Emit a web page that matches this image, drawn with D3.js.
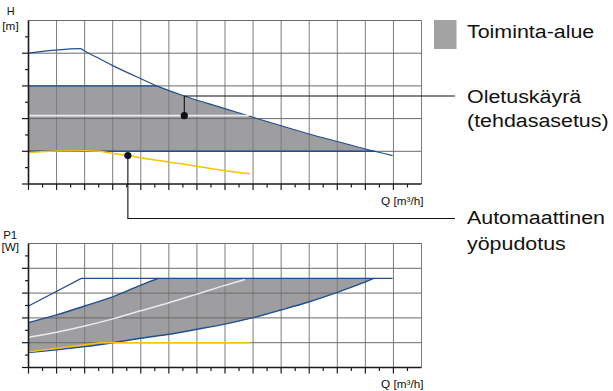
<!DOCTYPE html>
<html>
<head>
<meta charset="utf-8">
<script src="https://cdn.jsdelivr.net/npm/d3@7"></script>
<style>
  html, body { margin: 0; padding: 0; background: #fff; }
  svg { display: block; font-family: "Liberation Sans", Arial, sans-serif; }
</style>
</head>
<body>
<svg id="chart" width="613" height="391"></svg>
<script>
// Flow axis (m³/h, shared by both panels)
const flowMax = 14;

// Head panel, H [m]: maximum curve, limits of the operating range, default and night curves
const headMax = [[0, 4.0], [1.84, 4.14], [2, 4.07], [3, 3.62], [4, 3.22], [4.57, 3.0],
  [5.55, 2.69], [6.82, 2.35], [8, 2.04], [9, 1.78], [10, 1.53], [11, 1.30], [12, 1.07], [12.97, 0.87]];
const headRangeTop = 3;
const headRangeBottom = 1;
const headDefault = [[0, 2.09], [7.85, 2.09]];
const headNight = [[0, 0.96], [1, 1.01], [2, 1.02], [2.55, 1.0], [3, 0.93], [3.54, 0.87], [4, 0.8],
  [6.1, 0.53], [6.82, 0.43], [7.89, 0.31]];

// Power panel, P1 [W]
const powerMax = [[0, 2.48], [1.88, 3.59], [12.97, 3.59]];
const powerUpper = [[0, 1.81], [1, 2.12], [2, 2.48], [3, 2.85], [4, 3.32], [4.63, 3.59], [12.3, 3.59]];
const powerLower = [[0, 0.6], [1, 0.71], [2, 0.84], [3, 1.0], [4, 1.18], [5, 1.34], [6, 1.54], [7, 1.75],
  [8, 2.01], [9, 2.32], [10, 2.65], [11, 3.03], [12, 3.45], [12.3, 3.59]];
const powerDefault = [[0, 1.22], [1, 1.42], [2, 1.67], [3, 1.96], [4, 2.29], [5, 2.61], [6, 2.96],
  [6.82, 3.25], [7.71, 3.55]];
const powerNight = [[0, 0.63], [2.55, 1.0], [7.89, 1.0]];

// Callout anchors: [flow, value on curve, value where the leader turns]
const defaultMarker = [5.55, 2.09, 2.69];
const nightMarker = [3.54, 0.87];

const legendLabels = {
  area: "Toiminta-alue",
  default: ["Oletuskäyrä", "(tehdasasetus)"],
  night: ["Automaattinen", "yöpudotus"]
};
const axisLabels = { head: ["H", "[m]"], power: ["P1", "[W]"], flow: "Q [m³/h]" };

const BLUE = "#1f4f8f", YELLOW = "#f8c300", AREA = "#9e9ea0", WHITE = "#e9ebf1";

const svg = d3.select("#chart");
const x = d3.scaleLinear().domain([0, flowMax]).range([28.5, 421.5]);
const yH = d3.scaleLinear().domain([0, 5]).range([184, 20.5]);
const yP = d3.scaleLinear().domain([0, 5]).range([367.5, 243.5]);

// flow where a falling polyline (past its peak) reaches value v
function flowAt(pts, v) {
  for (let i = 1; i < pts.length; i++) {
    const [x0, y0] = pts[i - 1], [x1, y1] = pts[i];
    if (y1 < y0 && (y0 - v) * (y1 - v) <= 0) return x0 + (v - y0) * (x1 - x0) / (y1 - y0);
  }
  return pts[pts.length - 1][0];
}

function stretchedText(g, str, px, py, size, anchor, sx) {
  return g.append("text")
    .attr("transform", `translate(${px},${py}) scale(${sx},1)`)
    .attr("font-size", size)
    .attr("text-anchor", anchor || "start")
    .attr("fill", "#111")
    .text(str);
}

function drawGrid(g, y) {
  const [y0, y5] = y.range();
  g.append("g").selectAll("line").data(d3.range(1, flowMax + 1)).join("line")
    .attr("x1", d => x(d)).attr("x2", d => x(d))
    .attr("y1", y0).attr("y2", y5)
    .attr("stroke", "#7c7c7c").attr("stroke-width", 1);
  g.append("g").selectAll("line").data(d3.range(1, 6)).join("line")
    .attr("x1", x(0)).attr("x2", x(flowMax))
    .attr("y1", d => y(d)).attr("y2", d => y(d))
    .attr("stroke", "#6a6a6a").attr("stroke-width", 1);
}

function drawAxes(g, y) {
  const [y0, y5] = y.range();
  const ax = g.append("g").attr("stroke", "#1a1a1a");
  ax.selectAll("line.xt").data(d3.range(0, flowMax, 0.5)).join("line").attr("class", "xt")
    .attr("x1", d => x(d)).attr("x2", d => x(d))
    .attr("y1", y0).attr("y2", d => y0 + (d % 1 === 0 ? 6 : 3.5))
    .attr("stroke-width", 1.2);
  ax.selectAll("line.yt").data(d3.range(0, 5, 0.5)).join("line").attr("class", "yt")
    .attr("x1", d => x(0) - (d % 1 === 0 ? 6.5 : 3.5)).attr("x2", x(0))
    .attr("y1", d => y(d)).attr("y2", d => y(d))
    .attr("stroke-width", 1.2);
  ax.append("line").attr("x1", x(0)).attr("x2", x(flowMax)).attr("y1", y0).attr("y2", y0).attr("stroke-width", 1.6);
  ax.append("line").attr("x1", x(0)).attr("x2", x(0)).attr("y1", y0).attr("y2", y5).attr("stroke-width", 1.6);
}

const curve = d3.curveMonotoneX;
const lineH = d3.line().x(d => x(d[0])).y(d => yH(d[1])).curve(curve);
const lineP = d3.line().x(d => x(d[0])).y(d => yP(d[1])).curve(curve);
const lineLin = (yy) => d3.line().x(d => x(d[0])).y(d => yy(d[1]));

const defs = svg.append("defs");

// ---------- Head panel ----------
const headPanel = svg.append("g");
// operating range: under the maximum curve, between the two limits
defs.append("clipPath").attr("id", "clipHeadRange").append("rect")
  .attr("x", x(0)).attr("width", x(flowMax) - x(0))
  .attr("y", yH(headRangeTop)).attr("height", yH(headRangeBottom) - yH(headRangeTop));
headPanel.append("path")
  .datum(headMax)
  .attr("clip-path", "url(#clipHeadRange)")
  .attr("fill", AREA)
  .attr("d", d3.area().x(d => x(d[0])).y0(yH(headRangeBottom)).y1(d => yH(d[1])).curve(curve));
drawGrid(headPanel, yH);

const qTopCross = flowAt(headMax, headRangeTop);
const qBottomCross = flowAt(headMax, headRangeBottom);
headPanel.append("path").datum([[0, headRangeTop], [qTopCross, headRangeTop]])
  .attr("d", lineLin(yH)).attr("fill", "none").attr("stroke", BLUE).attr("stroke-width", 1.4);
headPanel.append("path").datum([[0, headRangeBottom], [qBottomCross, headRangeBottom]])
  .attr("d", lineLin(yH)).attr("fill", "none").attr("stroke", BLUE).attr("stroke-width", 1.4);
headPanel.append("path").datum(headMax).attr("d", lineH).attr("fill", "none").attr("stroke", BLUE).attr("stroke-width", 1.2);
headPanel.append("path").datum(headDefault).attr("d", lineLin(yH)).attr("fill", "none").attr("stroke", WHITE).attr("stroke-width", 1.6);
headPanel.append("path").datum(headNight).attr("d", lineH).attr("fill", "none").attr("stroke", YELLOW).attr("stroke-width", 1.5);
drawAxes(headPanel, yH);

// ---------- Power panel ----------
const powerPanel = svg.append("g");
defs.append("clipPath").attr("id", "clipPowerLower").append("path")
  .datum(powerLower)
  .attr("d", d3.area().x(d => x(d[0])).y0(d => yP(d[1])).y1(yP(5)).curve(curve));
powerPanel.append("path")
  .datum(powerUpper)
  .attr("clip-path", "url(#clipPowerLower)")
  .attr("fill", AREA)
  .attr("d", d3.area().x(d => x(d[0])).y0(yP(0)).y1(d => yP(d[1])).curve(curve));
drawGrid(powerPanel, yP);
powerPanel.append("path").datum(powerMax).attr("d", lineLin(yP)).attr("fill", "none").attr("stroke", BLUE).attr("stroke-width", 1.2);
powerPanel.append("path").datum(powerUpper.slice(0, 6)).attr("d", lineP).attr("fill", "none").attr("stroke", BLUE).attr("stroke-width", 1.4);
powerPanel.append("path").datum(powerLower).attr("d", lineP).attr("fill", "none").attr("stroke", BLUE).attr("stroke-width", 1.4);
powerPanel.append("path").datum(powerDefault).attr("d", lineP).attr("fill", "none").attr("stroke", WHITE).attr("stroke-width", 1.5);
powerPanel.append("path").datum(powerNight).attr("d", lineLin(yP)).attr("fill", "none").attr("stroke", YELLOW).attr("stroke-width", 1.5);
drawAxes(powerPanel, yP);

// ---------- Axis captions ----------
const cap = svg.append("g");
stretchedText(cap, axisLabels.head[0], 10.7, 15, 11, "middle", 1.0);
stretchedText(cap, axisLabels.head[1], 10.5, 29.5, 11, "middle", 1.07);
stretchedText(cap, axisLabels.power[0], 10.2, 238.5, 11, "middle", 1.05);
stretchedText(cap, axisLabels.power[1], 10.2, 250.5, 11, "middle", 1.07);
stretchedText(cap, axisLabels.flow, 423.5, 204.5, 11, "end", 1.07);
stretchedText(cap, axisLabels.flow, 423.5, 387.5, 11, "end", 1.07);

// ---------- Legend and callouts ----------
const leg = svg.append("g");
const textX = 467, lineEnd = 455;
leg.append("rect").attr("x", 434).attr("y", 20).attr("width", 22.5).attr("height", 29).attr("fill", "#a2a2a2");
stretchedText(leg, legendLabels.area, textX, 37.5, 18, "start", 1.19);

// default curve callout
const dX = x(defaultMarker[0]), dY = yH(defaultMarker[1]), dTurn = yH(defaultMarker[2]);
leg.append("path").attr("d", `M${dX},${dY}V${dTurn}H${lineEnd}`).attr("fill", "none").attr("stroke", "#111").attr("stroke-width", 1.1);
leg.append("circle").attr("cx", dX).attr("cy", dY).attr("r", 3.6).attr("fill", "#111");
stretchedText(leg, legendLabels.default[0], textX, 103, 18, "start", 1.19);
stretchedText(leg, legendLabels.default[1], textX, 126.5, 18, "start", 1.19);

// night setback callout
const nX = x(nightMarker[0]), nY = yH(nightMarker[1]), nTurn = 218.5;
leg.append("path").attr("d", `M${nX},${nY}V${nTurn}H${lineEnd}`).attr("fill", "none").attr("stroke", "#111").attr("stroke-width", 1.1);
leg.append("circle").attr("cx", nX).attr("cy", nY).attr("r", 3.6).attr("fill", "#111");
stretchedText(leg, legendLabels.night[0], textX, 223.5, 18, "start", 1.19);
stretchedText(leg, legendLabels.night[1], textX, 250, 18, "start", 1.19);
</script>
</body>
</html>
